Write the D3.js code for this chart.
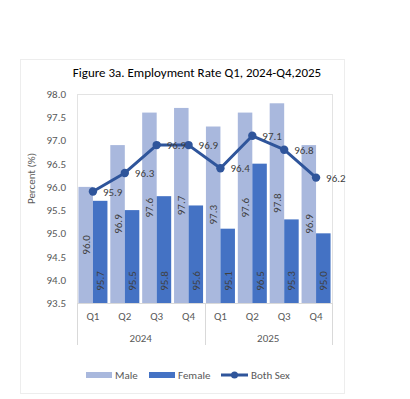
<!DOCTYPE html>
<html>
<head>
<meta charset="utf-8">
<script src="https://cdn.jsdelivr.net/npm/d3@7"></script>
<style>
  body { margin: 0; background: #fff; }
  text { font-family: Carlito, Lato, "Open Sans", sans-serif; }
</style>
</head>
<body>
<script>
// chart data
var quarters = ["Q1", "Q2", "Q3", "Q4", "Q1", "Q2", "Q3", "Q4"];
var years = ["2024", "2025"];
var male = [96.0, 96.9, 97.6, 97.7, 97.3, 97.6, 97.8, 96.9];
var female = [95.7, 95.5, 95.8, 95.6, 95.1, 96.5, 95.3, 95.0];
var bothSex = [95.9, 96.3, 96.9, 96.9, 96.4, 97.1, 96.8, 96.2];
var yTicks = [93.5, 94.0, 94.5, 95.0, 95.5, 96.0, 96.5, 97.0, 97.5, 98.0];

var svgWidth = 410, svgHeight = 399;
var margin = {top: 94, right: 78, bottom: 96, left: 77};
var width = svgWidth - margin.left - margin.right,
    height = svgHeight - margin.top - margin.bottom;

var maleColor = "#A9B8DD", femaleColor = "#4472C4", lineColor = "#2F559B";

var svg = d3.select("body").append("svg")
    .attr("width", svgWidth)
    .attr("height", svgHeight);

// outer chart frame
svg.append("rect")
    .attr("x", 20.5).attr("y", 59.5)
    .attr("width", 324).attr("height", 334)
    .attr("fill", "none").attr("stroke", "#EDEDED");

svg.append("text")
    .attr("x", 197).attr("y", 77)
    .attr("text-anchor", "middle")
    .attr("font-size", 13)
    .attr("fill", "#000")
    .text("Figure 3a. Employment Rate Q1, 2024-Q4,2025");

var chart = svg.append("g")
    .attr("transform", "translate(" + margin.left + "," + margin.top + ")");

var idx = d3.range(quarters.length);

var xScale = d3.scaleBand().domain(idx).range([0, width])
    .paddingInner(0.09).paddingOuter(0.045);
var xSub = d3.scaleBand().domain(["male", "female"]).range([0, xScale.bandwidth()]);
var yScale = d3.scaleLinear().domain([93.5, 98.0]).range([height, 0]);

// plot area border
chart.append("rect")
    .attr("x", 0.5).attr("y", 0.5)
    .attr("width", width).attr("height", height)
    .attr("fill", "none").attr("stroke", "#E3E3E3");

// y axis
var yAxis = d3.axisLeft(yScale).tickValues(yTicks).tickSize(0).tickPadding(11)
    .tickFormat(d3.format(".1f"));
var yG = chart.append("g").call(yAxis);
yG.select(".domain").remove();
yG.selectAll("text").attr("font-size", 11).attr("fill", "#595959")
    .attr("font-family", "Carlito, Lato, sans-serif");

chart.append("text")
    .attr("transform", "translate(" + (-42) + "," + (height / 2 - 20) + ") rotate(-90)")
    .attr("text-anchor", "middle")
    .attr("font-size", 11)
    .attr("fill", "#595959")
    .text("Percent (%)");

// bars
var groups = chart.selectAll(".cat")
    .data(idx).enter().append("g")
    .attr("class", "cat")
    .attr("transform", function(i) { return "translate(" + xScale(i) + ",0)"; });

groups.append("rect")
    .attr("x", xSub("male"))
    .attr("y", function(i) { return yScale(male[i]); })
    .attr("width", xSub.bandwidth())
    .attr("height", function(i) { return height - yScale(male[i]); })
    .attr("fill", maleColor);

groups.append("rect")
    .attr("x", xSub("female"))
    .attr("y", function(i) { return yScale(female[i]); })
    .attr("width", xSub.bandwidth())
    .attr("height", function(i) { return height - yScale(female[i]); })
    .attr("fill", femaleColor);

// male labels, centered in bar
groups.append("text")
    .attr("transform", function(i) {
      var cx = xSub("male") + xSub.bandwidth() / 2;
      var cy = (yScale(male[i]) + height) / 2;
      return "translate(" + (cx + 4) + "," + cy + ") rotate(-90)";
    })
    .attr("text-anchor", "middle")
    .attr("font-size", 11)
    .attr("fill", "#404040")
    .text(function(i) { return male[i].toFixed(1); });

// female labels, inside base
groups.append("text")
    .attr("transform", function(i) {
      var cx = xSub("female") + xSub.bandwidth() / 2;
      return "translate(" + (cx + 4) + "," + (height - 22) + ") rotate(-90)";
    })
    .attr("text-anchor", "middle")
    .attr("font-size", 11)
    .attr("fill", "#404040")
    .text(function(i) { return female[i].toFixed(1); });

// both sex line
var cx = function(i) { return xScale(i) + xScale.bandwidth() / 2; };
var line = d3.line().x(cx).y(function(i) { return yScale(bothSex[i]); });

chart.append("path")
    .datum(idx)
    .attr("d", line)
    .attr("fill", "none")
    .attr("stroke", lineColor)
    .attr("stroke-width", 3)
    .attr("stroke-linejoin", "round");

chart.selectAll(".pt")
    .data(idx).enter().append("circle")
    .attr("class", "pt")
    .attr("cx", cx)
    .attr("cy", function(i) { return yScale(bothSex[i]); })
    .attr("r", 4.2)
    .attr("fill", lineColor);

chart.selectAll(".ptlabel")
    .data(idx).enter().append("text")
    .attr("class", "ptlabel")
    .attr("x", function(i) { return cx(i) + 10; })
    .attr("y", function(i) { return yScale(bothSex[i]) + 4; })
    .attr("font-size", 11)
    .attr("fill", "#404040")
    .text(function(i) { return bothSex[i].toFixed(1); });

// x axis: quarters and years
chart.append("line")
    .attr("x1", 0).attr("x2", width)
    .attr("y1", height + 0.5).attr("y2", height + 0.5)
    .attr("stroke", "#D9D9D9");

var xAxis = d3.axisBottom(xScale).tickSize(0).tickPadding(9)
    .tickFormat(function(i) { return quarters[i]; });
var xG = chart.append("g").attr("transform", "translate(0," + height + ")").call(xAxis);
xG.select(".domain").remove();
xG.selectAll("text").attr("font-size", 11).attr("fill", "#595959")
    .attr("font-family", "Carlito, Lato, sans-serif");

var yearScale = d3.scaleBand().domain(years).range([0, width]);
[0, width / 2, width].forEach(function(x) {
  chart.append("line")
    .attr("x1", Math.round(x) + 0.5).attr("x2", Math.round(x) + 0.5)
    .attr("y1", height).attr("y2", height + 42)
    .attr("stroke", "#D9D9D9");
});
chart.selectAll(".year")
    .data(years).enter().append("text")
    .attr("class", "year")
    .attr("x", function(d) { return yearScale(d) + yearScale.bandwidth() / 2; })
    .attr("y", height + 39)
    .attr("text-anchor", "middle")
    .attr("font-size", 11)
    .attr("fill", "#595959")
    .text(function(d) { return d; });

// legend
var legend = svg.append("g").attr("transform", "translate(0,375)");
legend.append("rect").attr("x", 86).attr("y", -3).attr("width", 26).attr("height", 6).attr("fill", maleColor);
legend.append("text").attr("x", 115).attr("y", 4).attr("font-size", 11).attr("fill", "#595959").text("Male");
legend.append("rect").attr("x", 149).attr("y", -3).attr("width", 26).attr("height", 6).attr("fill", femaleColor);
legend.append("text").attr("x", 178).attr("y", 4).attr("font-size", 11).attr("fill", "#595959").text("Female");
legend.append("line").attr("x1", 221).attr("x2", 248).attr("y1", 0).attr("y2", 0)
    .attr("stroke", lineColor).attr("stroke-width", 3);
legend.append("circle").attr("cx", 234.5).attr("cy", 0).attr("r", 3.5).attr("fill", lineColor);
legend.append("text").attr("x", 251).attr("y", 4).attr("font-size", 11).attr("fill", "#595959").text("Both Sex");
</script>
</body>
</html>
